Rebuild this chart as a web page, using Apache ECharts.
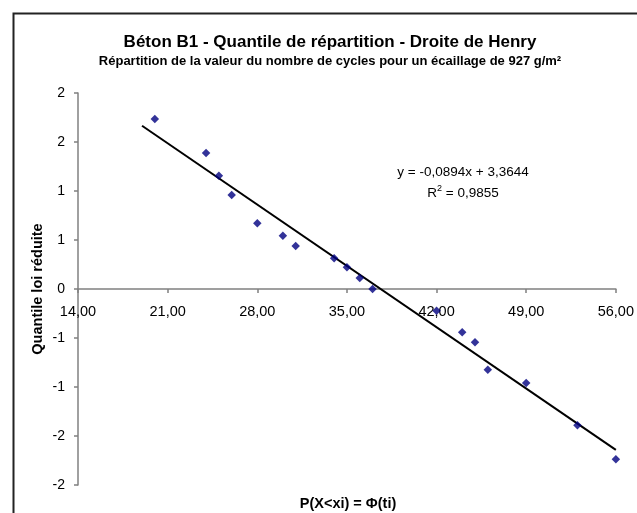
<!DOCTYPE html>
<html>
<head>
<meta charset="utf-8">
<script src="https://cdn.jsdelivr.net/npm/echarts@6/dist/echarts.min.js"></script>
<style>html,body{margin:0;padding:0;background:#fff;}#chart{width:637px;height:513px;}</style>
</head>
<body>
<div id="chart"></div>
<script>
var xValues = [20, 24, 25, 26, 28, 30, 31, 34, 35, 36, 37, 42, 44, 45, 46, 49, 53, 56];
var yValues = [1.735, 1.388, 1.156, 0.959, 0.670, 0.544, 0.439, 0.313, 0.221, 0.112, 0.0, -0.221, -0.442, -0.544, -0.823, -0.959, -1.391, -1.738];
var trendX = [19, 56];
var trendY = [1.666, -1.642];
var xTickLabels = ['14,00', '21,00', '28,00', '35,00', '42,00', '49,00', '56,00'];
var yTickLabels = ['-2', '-2', '-1', '-1', '0', '1', '1', '2', '2'];
var titleText = 'Béton B1 - Quantile de répartition - Droite de Henry';
var subtitleText = 'Répartition de la valeur du nombre de cycles pour un écaillage de 927 g/m²';
var xAxisName = 'P(X<xi) = Φ(ti)';
var yAxisName = 'Quantile loi réduite';
var equationText = 'y = -0,0894x + 3,3644';
var r2Value = '0,9855';

var FONT = '"Liberation Sans", Arial, sans-serif';
var points = xValues.map(function (x, i) { return [x, yValues[i]]; });
var trend = trendX.map(function (x, i) { return [x, trendY[i]]; });

var chart = echarts.init(document.getElementById('chart'), null, {renderer: 'canvas'});
chart.setOption({
  animation: false,
  backgroundColor: '#ffffff',
  title: [
    {text: titleText, left: 330, top: 34, textAlign: 'center', padding: 0,
     textStyle: {fontFamily: FONT, fontSize: 17, fontWeight: 'bold', color: '#000'}},
    {text: subtitleText, left: 330, top: 55, textAlign: 'center', padding: 0,
     textStyle: {fontFamily: FONT, fontSize: 13, fontWeight: 'bold', color: '#000'}},
    {text: xAxisName, left: 348, top: 496, textAlign: 'center', padding: 0,
     textStyle: {fontFamily: FONT, fontSize: 14.5, fontWeight: 'bold', color: '#000'}}
  ],
  graphic: [
    {type: 'rect', left: 11, top: 11, shape: {width: 660, height: 540},
     style: {fill: 'none', stroke: '#222', lineWidth: 2}, silent: true, z: -1},
    {type: 'text', x: 463, y: 172, style: {text: equationText, fontFamily: FONT, fontSize: 13.5,
     fill: '#000', align: 'center', verticalAlign: 'middle'}},
    {type: 'text', x: 463, y: 193, style: {text: 'R{sup|2} = ' + r2Value, fontFamily: FONT, fontSize: 13.5,
     fill: '#000', align: 'center', verticalAlign: 'middle',
     rich: {sup: {fontFamily: FONT, fontSize: 9, verticalAlign: 'top', padding: [0, 0, 8, 0], fill: '#000'}}}}
  ],
  grid: {left: 78, right: 16, top: 93, bottom: 28, containLabel: false},
  xAxis: {
    type: 'value', min: 14, max: 56, interval: 7,
    position: 'bottom', offset: -196,
    axisLine: {onZero: false, lineStyle: {color: '#808080', width: 1.5}},
    axisTick: {show: true, inside: false, length: 4, lineStyle: {color: '#808080', width: 1.5}},
    axisLabel: {margin: 15, fontFamily: FONT, fontSize: 14.5, color: '#000',
      formatter: function (v) { return xTickLabels[Math.round((v - 14) / 7)]; }},
    splitLine: {show: false}
  },
  yAxis: {
    type: 'value', min: -2, max: 2, interval: 0.5,
    name: yAxisName, nameLocation: 'middle', nameGap: 33, nameRotate: 90,
    nameMoveOverlap: false,
    nameTextStyle: {fontFamily: FONT, fontSize: 14.5, fontWeight: 'bold', color: '#000'},
    axisLine: {show: true, onZero: false, lineStyle: {color: '#808080', width: 1.5}},
    axisTick: {show: true, length: 4, lineStyle: {color: '#808080', width: 1.5}},
    axisLabel: {margin: 13, fontFamily: FONT, fontSize: 14, color: '#000',
      formatter: function (v) { return yTickLabels[Math.round((v + 2) / 0.5)]; }},
    splitLine: {show: false}
  },
  series: [
    {type: 'line', data: trend, symbol: 'none', lineStyle: {color: '#000', width: 2}, z: 2, silent: true},
    {type: 'scatter', data: points, symbol: 'diamond', symbolSize: 8.5,
     itemStyle: {color: '#000080'}, z: 3}
  ]
});
</script>
</body>
</html>
